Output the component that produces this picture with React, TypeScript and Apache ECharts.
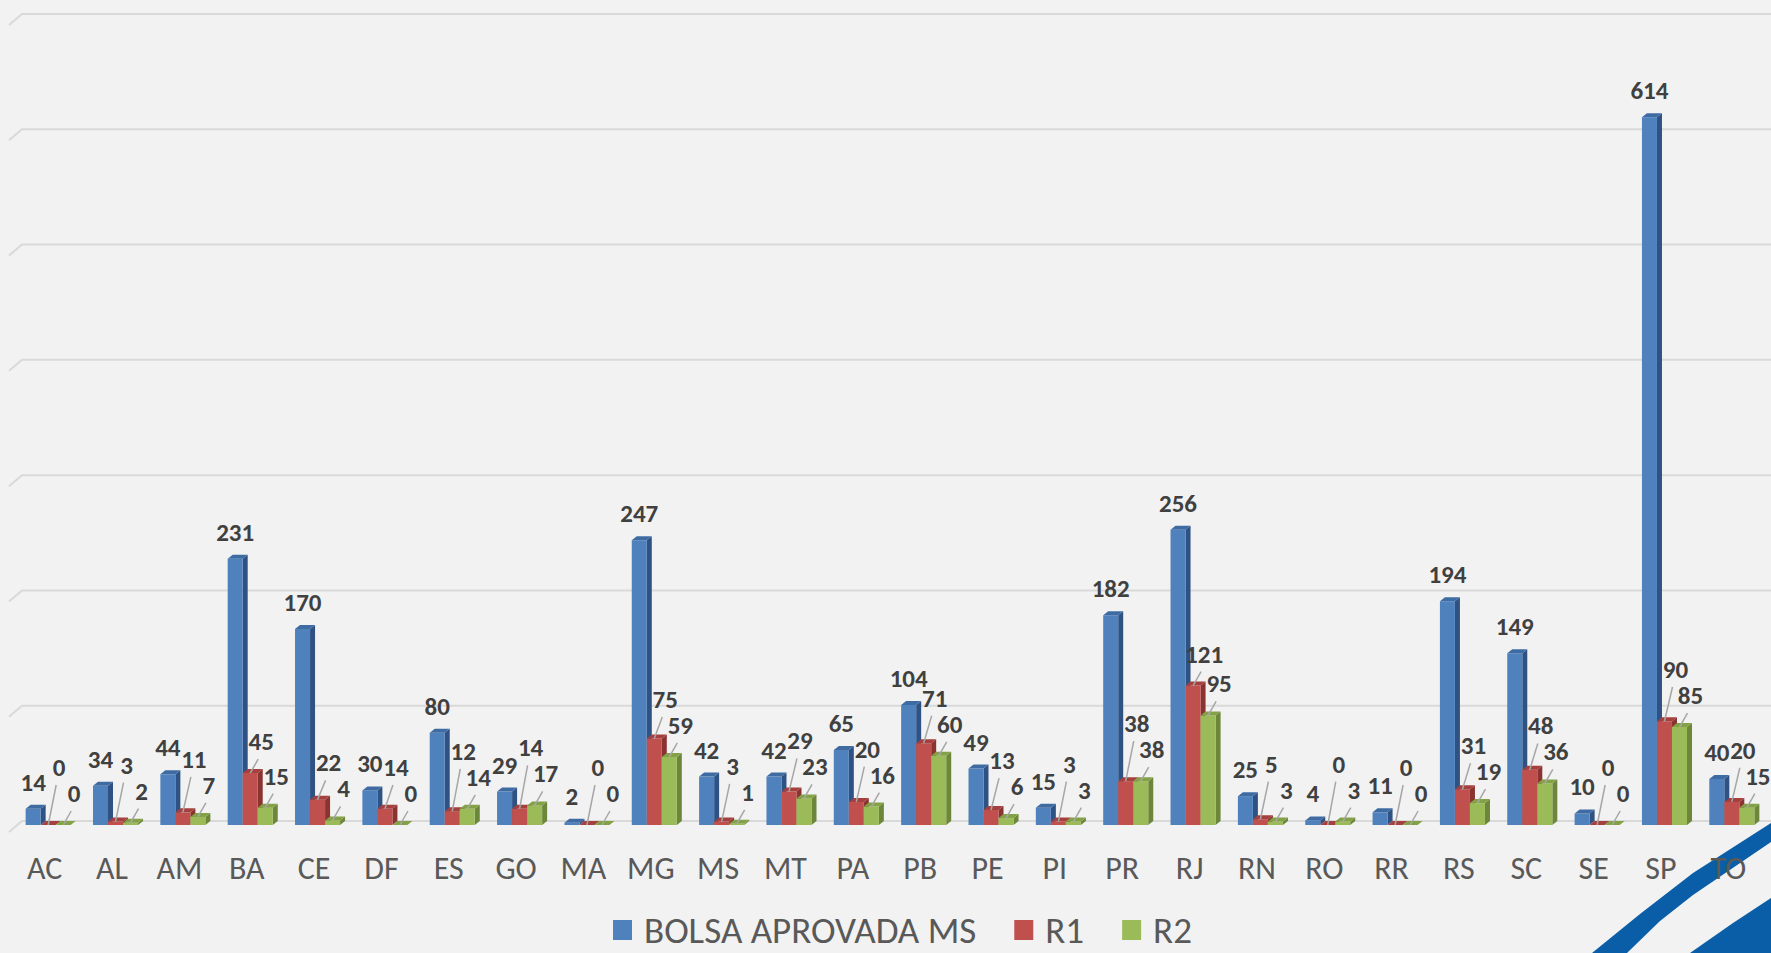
import React, { useEffect, useRef } from 'react';
import * as echarts from 'echarts';

const categories = ['AC','AL','AM','BA','CE','DF','ES','GO','MA','MG','MS','MT','PA','PB','PE','PI','PR','RJ','RN','RO','RR','RS','SC','SE','SP','TO'];
const bolsa = [14,34,44,231,170,30,80,29,2,247,42,42,65,104,49,15,182,256,25,4,11,194,149,10,614,40];
const r1 = [0,3,11,45,22,14,12,14,0,75,3,29,20,71,13,3,38,121,5,0,0,31,48,0,90,20];
const r2 = [0,2,7,15,4,0,14,17,0,59,1,23,16,60,6,3,38,95,3,3,0,19,36,0,85,15];
const seriesNames = ['BOLSA APROVADA MS','R1','R2'];
const yMax = 700;
const yStep = 100;
const gridValues = [0,100,200,300,400,500,600,700];

const FONT = 'Carlito, Lato, "Open Sans", sans-serif';
const DX = 5;
const DY = 4;
const SHIFT = 6;

const palette = [
  { front: '#4f81bd', side: '#2f5284', top: '#3f6ba3' },
  { front: '#c0504d', side: '#8a3331', top: '#a5403e' },
  { front: '#9bbb59', side: '#6c863a', top: '#83a246' },
];

function geom(api: any, sIdx: number, ci: number, v: number) {
  const band = api.size([1, 0])[0];
  const bw = band * 0.223;
  const p = api.coord([ci, v]);
  const b = api.coord([ci, 0]);
  const xb = p[0] - 1.5 * bw + DX / 2 + SHIFT + sIdx * bw;
  const xf = xb - DX;
  return { bw, xb, xf, yt: p[1], yb: b[1] };
}

function barRender(sIdx: number) {
  const c = palette[sIdx];
  return (params: any, api: any) => {
    const { bw, xb, xf, yt, yb } = geom(api, sIdx, api.value(0), api.value(1));
    return {
      type: 'group',
      children: [
        { type: 'polygon', shape: { points: [[xf + bw, yt + DY], [xb + bw, yt], [xb + bw, yb], [xf + bw, yb + DY]] }, style: { fill: c.side } },
        { type: 'rect', shape: { x: xf, y: yt + DY, width: bw, height: Math.max(0, yb - yt) }, style: { fill: c.front } },
        { type: 'polygon', shape: { points: [[xf, yt + DY], [xb, yt], [xb + bw, yt], [xf + bw, yt + DY]] }, style: { fill: c.top } },
      ],
    };
  };
}

function labelRender(sIdx: number) {
  return (params: any, api: any) => {
    const ci = api.value(0);
    const v = api.value(1);
    const { bw, xf, yt } = geom(api, sIdx, ci, v);
    const fcx = xf + bw / 2;
    const ft = yt + DY;
    const font = { fontFamily: FONT, fontSize: 25, fontWeight: 'bold', fill: '#404040' };
    if (sIdx === 0) {
      return { type: 'text', style: { ...font, text: String(v), x: fcx, y: ft - 14, align: 'center', verticalAlign: 'bottom' } };
    }
    let lb = ft - 19;
    if (sIdx === 1) {
      const g = geom(api, 2, ci, r2[ci]);
      const gb = g.yt + DY - 19;
      if (lb > gb - 26) lb = gb - 26;
    }
    return {
      type: 'group',
      children: [
        { type: 'line', shape: { x1: fcx, y1: ft, x2: fcx + 8, y2: Math.min(ft - 14, lb + 5) }, style: { stroke: '#a6a6a6', lineWidth: 1.5 } },
        { type: 'text', style: { ...font, text: String(v), x: fcx + 11, y: lb, align: 'center', verticalAlign: 'bottom' } },
      ],
    };
  };
}

function gridRender(params: any, api: any) {
  const v = api.value(1);
  const p = api.coord([0, v]);
  const band = api.size([1, 0])[0];
  const x0 = p[0] - band / 2;
  const y = p[1];
  return {
    type: 'polyline',
    shape: { points: [[x0 - 2, y + 11], [x0 + 11, y], [api.getWidth(), y]] },
    style: { stroke: '#d9d9d9', lineWidth: 2, fill: 'none' },
  };
}

export default function App() {
  const ref = useRef<HTMLDivElement>(null);
  useEffect(() => {
    document.body.style.margin = '0';
    const chart = echarts.init(ref.current as HTMLDivElement, null, { renderer: 'svg' });
    const datasets = [bolsa, r1, r2];
    const series: any[] = [
      {
        name: 'gridlines',
        type: 'custom',
        renderItem: gridRender,
        data: gridValues.map((g) => [0, g]),
        silent: true,
        z: 1,
      },
    ];
    datasets.forEach((arr, s) => {
      series.push({
        name: seriesNames[s],
        type: 'custom',
        renderItem: barRender(s),
        itemStyle: { color: palette[s].front },
        data: arr.map((v, i) => [i, v]),
        encode: { x: 0, y: 1 },
        z: 2 + s,
      });
    });
    datasets.forEach((arr, s) => {
      series.push({
        name: 'lbl' + s,
        type: 'custom',
        renderItem: labelRender(s),
        data: arr.map((v, i) => [i, v]),
        encode: { x: 0, y: 1 },
        silent: true,
        z: 10,
      });
    });
    chart.setOption({
      animation: false,
      backgroundColor: '#f2f2f2',
      grid: { left: 11, right: 9, top: 14, bottom: 132, containLabel: false },
      xAxis: {
        type: 'category',
        data: categories,
        axisLine: { show: false },
        axisTick: { show: false },
        axisLabel: { color: '#595959', fontFamily: FONT, fontSize: 32, margin: 31 },
      },
      yAxis: {
        type: 'value',
        min: 0,
        max: yMax,
        interval: yStep,
        axisLabel: { show: false },
        axisLine: { show: false },
        axisTick: { show: false },
        splitLine: { show: false },
      },
      legend: {
        data: seriesNames,
        left: 608,
        top: 906,
        icon: 'rect',
        itemWidth: 19,
        itemHeight: 20,
        itemGap: 38,
        textStyle: { color: '#595959', fontFamily: FONT, fontSize: 37, lineHeight: 38, padding: [0, 0, 0, 7] },
      },
      graphic: [
        {
          type: 'polygon',
          silent: true,
          z: -1,
          shape: { points: [[1592, 953], [1640, 914], [1693, 873], [1771, 823], [1771, 842], [1693, 895], [1660, 921], [1627, 953]] },
          style: { fill: '#0a5ea8' },
        },
        {
          type: 'polygon',
          silent: true,
          z: -1,
          shape: { points: [[1771, 898], [1733, 923], [1690, 953], [1771, 953]] },
          style: { fill: '#0a5ea8' },
        },
      ],
      series,
    });
    return () => chart.dispose();
  }, []);
  return <div ref={ref} style={{ position: 'absolute', left: 0, top: 0, width: 1771, height: 953 }} />;
}
